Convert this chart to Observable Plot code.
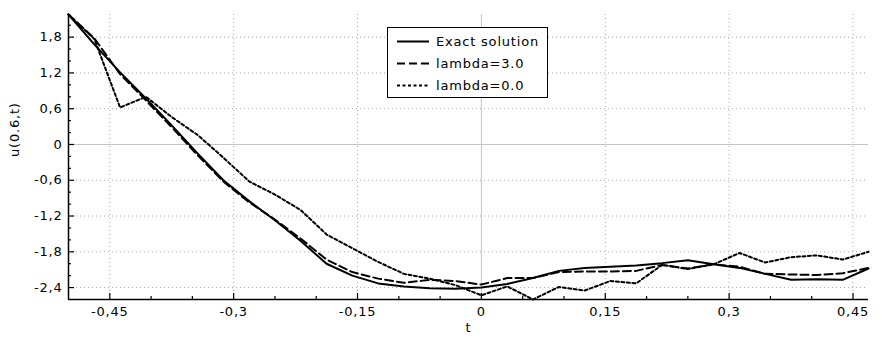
<!DOCTYPE html>
<html>
<head>
<meta charset="utf-8">
<script src="https://cdn.jsdelivr.net/npm/d3@7"></script>
<script src="https://cdn.jsdelivr.net/npm/@observablehq/plot@0.6"></script>
<style>
  html, body { margin: 0; padding: 0; background: #fff; }
  #wrap { position: relative; width: 882px; height: 347px; font-family: "DejaVu Sans", sans-serif; }
  #legend { position: absolute; left: 387px; top: 27px; }
</style>
</head>
<body>
<div id="wrap"><div id="chart"></div><div id="legend"></div></div>
<script>
// time grid (t)
const t = [-0.5, -0.46875, -0.4375, -0.40625, -0.375, -0.34375, -0.3125, -0.28125,
  -0.25, -0.21875, -0.1875, -0.15625, -0.125, -0.09375, -0.0625, -0.03125,
  0, 0.03125, 0.0625, 0.09375, 0.125, 0.15625, 0.1875, 0.21875,
  0.25, 0.28125, 0.3125, 0.34375, 0.375, 0.40625, 0.4375, 0.46875];

// Exact solution
const exact = [2.18, 1.68, 1.21, 0.77, 0.32, -0.15, -0.60, -0.95,
  -1.27, -1.62, -2.00, -2.20, -2.33, -2.38, -2.41, -2.42,
  -2.40, -2.34, -2.24, -2.12, -2.07, -2.05, -2.03, -1.99,
  -1.94, -2.01, -2.07, -2.17, -2.27, -2.26, -2.27, -2.08];

// lambda = 3.0
const lambda3 = [2.18, 1.78, 1.18, 0.74, 0.29, -0.18, -0.62, -0.97,
  -1.26, -1.58, -1.93, -2.14, -2.25, -2.32, -2.27, -2.29,
  -2.35, -2.24, -2.24, -2.14, -2.13, -2.13, -2.12, -2.02,
  -2.08, -2.01, -2.05, -2.17, -2.18, -2.19, -2.16, -2.07];

// lambda = 0.0
const lambda0 = [2.18, 1.77, 0.62, 0.80, 0.46, 0.16, -0.22, -0.62,
  -0.84, -1.10, -1.51, -1.74, -1.97, -2.17, -2.25, -2.36,
  -2.53, -2.38, -2.60, -2.39, -2.45, -2.29, -2.33, -2.02,
  -2.09, -2.01, -1.82, -1.98, -1.89, -1.86, -1.93, -1.80];

const seriesNames = ["Exact solution", "lambda=3.0", "lambda=0.0"];
const seriesDash = [null, "8,4", "3,2.5"];

const xMajor = [-0.45, -0.3, -0.15, 0, 0.15, 0.3, 0.45];
const xMinor = [-0.4, -0.35, -0.25, -0.2, -0.1, -0.05, 0.05, 0.1, 0.2, 0.25, 0.35, 0.4];
const yMajor = [-2.4, -1.8, -1.2, -0.6, 0, 0.6, 1.2, 1.8];
const yMinor = [-2.2, -2.0, -1.6, -1.4, -1.0, -0.8, -0.4, -0.2, 0.2, 0.4, 0.8, 1.0, 1.4, 1.6, 2.0];

const xLabel = "t";
const yLabel = "u(0.6,t)";

const fmt = d => String(+d.toFixed(2)).replace(".", ",");

const all = [exact, lambda3, lambda0];
const rows = [];
all.forEach((arr, k) => arr.forEach((u, i) => rows.push({t: t[i], u, s: k})));

const xDom = [t[0], t[t.length - 1]];
const yDom = d3.extent(rows, d => d.u);

const gridStyle = {stroke: "#aaaaaa", strokeOpacity: 1, strokeDasharray: "1,3"};

const plot = Plot.plot({
  width: 882,
  height: 347,
  marginLeft: 68,
  marginRight: 14,
  marginTop: 14,
  marginBottom: 48,
  x: {domain: xDom},
  y: {domain: yDom},
  style: {fontFamily: "DejaVu Sans, sans-serif", fontSize: "13px", letterSpacing: "0.8px", color: "#000", background: "#fff", overflow: "visible"},
  marks: [
    Plot.gridX(xMajor.filter(d => d !== 0), gridStyle),
    Plot.gridY(yMajor.filter(d => d !== 0), gridStyle),
    Plot.ruleX([0], {stroke: "#c4c4c4", strokeWidth: 1}),
    Plot.ruleY([0], {stroke: "#c4c4c4", strokeWidth: 1}),
    Plot.axisX(xMajor, {tickSize: -6, fill: "none", label: null, strokeWidth: 1.2}),
    Plot.axisX(xMinor, {tickSize: -3, fill: "none", label: null, strokeWidth: 1.2}),
    Plot.axisX(xMajor, {tickSize: 0, tickPadding: 7, tickFormat: fmt, label: null}),
    Plot.axisY(yMajor, {tickSize: -6, fill: "none", label: null, strokeWidth: 1.2}),
    Plot.axisY(yMinor, {tickSize: -3, fill: "none", label: null, strokeWidth: 1.2}),
    Plot.axisY(yMajor, {tickSize: 0, tickPadding: 6, tickFormat: fmt, label: null}),
    Plot.ruleX([xDom[0]], {stroke: "#000", strokeWidth: 1.5}),
    Plot.ruleY([yDom[0]], {stroke: "#000", strokeWidth: 1.5}),
    ...[0, 1, 2].map(k => Plot.line(rows.filter(d => d.s === k), {
      x: "t", y: "u", stroke: "#000", strokeWidth: 2,
      strokeDasharray: seriesDash[k], strokeLinejoin: "round"
    })),
    Plot.text([yLabel], {frameAnchor: "left", rotate: -90, dx: -54}),
    Plot.text([xLabel], {frameAnchor: "bottom", dy: 32})
  ]
});
document.getElementById("chart").appendChild(plot);

// legend box (inside the plot area, top centre)
const lg = d3.select("#legend").append("svg")
  .attr("width", 162).attr("height", 72)
  .style("font-family", "DejaVu Sans, sans-serif")
  .style("font-size", "13px")
  .style("letter-spacing", "0.8px");
lg.append("rect").attr("x", 0.5).attr("y", 0.5).attr("width", 160).attr("height", 70)
  .attr("fill", "#fff").attr("stroke", "#000").attr("stroke-width", 1);
seriesNames.forEach((name, k) => {
  const cy = 14.5 + k * 22;
  lg.append("line").attr("x1", 10).attr("x2", 42).attr("y1", cy).attr("y2", cy)
    .attr("stroke", "#000").attr("stroke-width", 2)
    .attr("stroke-dasharray", seriesDash[k]);
  lg.append("text").attr("x", 49).attr("y", cy).attr("dy", "0.35em").text(name);
});
</script>
</body>
</html>
